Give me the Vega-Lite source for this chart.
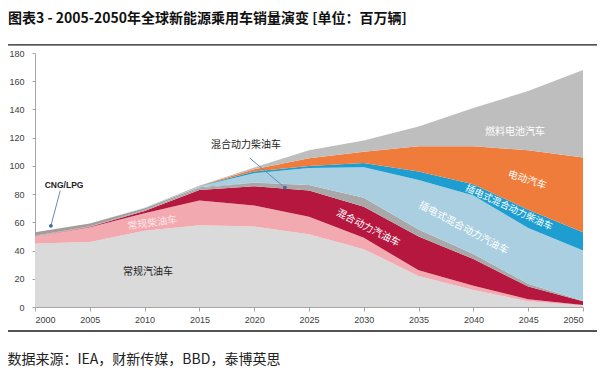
{
  "$schema": "https://vega.github.io/schema/vega-lite/v6.json",
  "autosize": "none",
  "width": 548,
  "height": 254,
  "padding": {"left": 35, "top": 53, "right": 24, "bottom": 73},
  "background": "#ffffff",
  "config": {
    "font": "Noto Sans CJK SC",
    "view": {"stroke": null},
    "axis": {"labelOverlap": false}
  },
  "title": {
    "text": "图表3 - 2005-2050年全球新能源乘用车销量演变 [单位：百万辆]",
    "anchor": "start",
    "frame": "group",
    "dx": -27,
    "offset": 16,
    "fontSize": 14,
    "fontWeight": "bold",
    "font": "Noto Sans CJK SC",
    "color": "#111111"
  },
  "resolve": {"axis": {"x": "independent", "y": "independent"}},
  "datasets": {
    "sales": [
      {"year": 2000, "常规汽油车": 45, "常规柴油车": 5, "混合动力汽油车": 0, "混合动力柴油车": 0.5, "CNG/LPG": 2.5, "插电式混合动力汽油车": 0, "插电式混合动力柴油车": 0, "电动汽车": 0, "燃料电池汽车": 0},
      {"year": 2005, "常规汽油车": 46, "常规柴油车": 10.5, "混合动力汽油车": 0.3, "混合动力柴油车": 0.5, "CNG/LPG": 1.8, "插电式混合动力汽油车": 0, "插电式混合动力柴油车": 0, "电动汽车": 0, "燃料电池汽车": 0},
      {"year": 2010, "常规汽油车": 54, "常规柴油车": 12.5, "混合动力汽油车": 1.5, "混合动力柴油车": 0.7, "CNG/LPG": 1.3, "插电式混合动力汽油车": 0.3, "插电式混合动力柴油车": 0, "电动汽车": 0, "燃料电池汽车": 0},
      {"year": 2015, "常规汽油车": 58, "常规柴油车": 17.5, "混合动力汽油车": 7.5, "混合动力柴油车": 1.2, "CNG/LPG": 0.6, "插电式混合动力汽油车": 0.7, "插电式混合动力柴油车": 0.3, "电动汽车": 0.2, "燃料电池汽车": 0},
      {"year": 2020, "常规汽油车": 57, "常规柴油车": 15, "混合动力汽油车": 13.5, "混合动力柴油车": 2.5, "CNG/LPG": 0.2, "插电式混合动力汽油车": 6.6, "插电式混合动力柴油车": 1.2, "电动汽车": 1.6, "燃料电池汽车": 1.2},
      {"year": 2025, "常规汽油车": 51.5, "常规柴油车": 12.5, "混合动力汽油车": 18.5, "混合动力柴油车": 4, "CNG/LPG": 0, "插电式混合动力汽油车": 12, "插电式混合动力柴油车": 1.5, "电动汽车": 5.5, "燃料电池汽车": 5.5},
      {"year": 2030, "常规汽油车": 41, "常规柴油车": 8, "混合动力汽油车": 22, "混合动力柴油车": 6.5, "CNG/LPG": 0, "插电式混合动力汽油车": 21.5, "插电式混合动力柴油车": 3, "电动汽车": 8, "燃料电池汽车": 8},
      {"year": 2035, "常规汽油车": 22, "常规柴油车": 4, "混合动力汽油车": 24, "混合动力柴油车": 5, "CNG/LPG": 0, "插电式混合动力汽油车": 35, "插电式混合动力柴油车": 6, "电动汽车": 18, "燃料电池汽车": 14},
      {"year": 2040, "常规汽油车": 12, "常规柴油车": 3, "混合动力汽油车": 19, "混合动力柴油车": 3.5, "CNG/LPG": 0, "插电式混合动力汽油车": 41.5, "插电式混合动力柴油车": 8, "电动汽车": 27, "燃料电池汽车": 27},
      {"year": 2045, "常规汽油车": 4, "常规柴油车": 1.5, "混合动力汽油车": 9, "混合动力柴油车": 2, "CNG/LPG": 0, "插电式混合动力汽油车": 39.5, "插电式混合动力柴油车": 13, "电动汽车": 42, "燃料电池汽车": 42},
      {"year": 2050, "常规汽油车": 1, "常规柴油车": 0.5, "混合动力汽油车": 2.5, "混合动力柴油车": 0.5, "CNG/LPG": 0, "插电式混合动力汽油车": 35.5, "插电式混合动力柴油车": 13, "电动汽车": 53, "燃料电池汽车": 62}
    ],
    "cats": [
      {"type": "常规汽油车", "k": 1},
      {"type": "常规柴油车", "k": 2},
      {"type": "混合动力汽油车", "k": 3},
      {"type": "混合动力柴油车", "k": 4},
      {"type": "CNG/LPG", "k": 5},
      {"type": "插电式混合动力汽油车", "k": 6},
      {"type": "插电式混合动力柴油车", "k": 7},
      {"type": "电动汽车", "k": 8},
      {"type": "燃料电池汽车", "k": 9}
    ],
    "labels": [
      {"name": "常规汽油车", "year": 2010.3, "value": 24.5},
      {"name": "混合动力柴油车", "year": 2019.25, "value": 114.5},
      {"name": "CNG/LPG", "year": 2002.65, "value": 86.5},
      {"name": "常规柴油车", "year": 2010.7, "value": 59.5},
      {"name": "混合动力汽油车", "year": 2030.4, "value": 56},
      {"name": "插电式混合动力汽油车", "year": 2039.1, "value": 56},
      {"name": "插电式混合动力柴油车", "year": 2043.25, "value": 70.5},
      {"name": "电动汽车", "year": 2044.9, "value": 90},
      {"name": "燃料电池汽车", "year": 2043.8, "value": 124}
    ],
    "arrows": [
      {"year": 2002.3, "value": 82.5, "year2": 2001.45, "value2": 57.5},
      {"year": 2019.6, "value": 105.5, "year2": 2022.8, "value2": 84.6}
    ],
    "borders": [
      {"xv": 1997.54, "yv": 185.7, "line": "top"},
      {"xv": 2051.28, "yv": 185.7, "line": "top"},
      {"xv": 1997.54, "yv": -17.0, "line": "bottom"},
      {"xv": 2051.28, "yv": -17.0, "line": "bottom"}
    ]
  },
  "layer": [
    {
      "data": {"name": "sales"},
      "transform": [
        {"fold": ["常规汽油车", "常规柴油车", "混合动力汽油车", "混合动力柴油车", "CNG/LPG", "插电式混合动力汽油车", "插电式混合动力柴油车", "电动汽车", "燃料电池汽车"], "as": ["type", "value"]},
        {"lookup": "type", "from": {"data": {"name": "cats"}, "key": "type", "fields": ["k"]}}
      ],
      "mark": {"type": "area", "interpolate": "linear"},
      "encoding": {
        "x": {
          "field": "year", "type": "quantitative",
          "scale": {"domain": [2000, 2050], "nice": false},
          "axis": {
            "values": [2000, 2005, 2010, 2015, 2020, 2025, 2030, 2035, 2040, 2045, 2050],
            "format": "d",
            "labelFontSize": 9,
            "labelColor": "#404040",
            "labelFont": "Liberation Sans",
            "labelOverlap": false,
            "domainColor": "#a6a6a6",
            "tickColor": "#a6a6a6",
            "tickSize": 4,
            "labelPadding": 4,
            "grid": false,
            "title": "数据来源：IEA，财新传媒，BBD，泰博英思",
            "titleX": -28,
            "titleY": 52,
            "titleAlign": "left",
            "titleAnchor": "start",
            "titleBaseline": "middle",
            "titleFontSize": 14,
            "titleFontWeight": "normal",
            "titleColor": "#222222",
            "titleFont": "Noto Sans CJK SC"
          }
        },
        "y": {
          "field": "value", "type": "quantitative", "stack": "zero",
          "scale": {"domain": [0, 180], "nice": false},
          "axis": {
            "values": [0, 20, 40, 60, 80, 100, 120, 140, 160, 180],
            "labelFontSize": 9,
            "labelColor": "#404040",
            "labelFont": "Liberation Sans",
            "labelOverlap": false,
            "domainColor": "#a6a6a6",
            "tickColor": "#a6a6a6",
            "tickSize": 3,
            "labelPadding": 8,
            "grid": false,
            "title": null
          }
        },
        "color": {
          "field": "type", "type": "nominal", "legend": null,
          "scale": {
            "domain": ["常规汽油车", "常规柴油车", "混合动力汽油车", "混合动力柴油车", "CNG/LPG", "插电式混合动力汽油车", "插电式混合动力柴油车", "电动汽车", "燃料电池汽车"],
            "range": ["#dadada", "#f3a9b0", "#b5173f", "#a8a8a8", "#a59b99", "#aacfe1", "#1e9ed0", "#f07c3c", "#bebebe"]
          }
        },
        "order": {"field": "k", "type": "quantitative", "sort": "ascending"}
      }
    },
    {
      "data": {"name": "borders"},
      "mark": {"type": "line", "strokeWidth": 1.3, "clip": false, "color": "#1a1a1a"},
      "encoding": {
        "x": {"field": "xv", "type": "quantitative", "axis": null},
        "y": {"field": "yv", "type": "quantitative", "axis": null},
        "detail": {"field": "line", "type": "nominal"}
      }
    },
    {
      "data": {"name": "arrows"},
      "mark": {"type": "rule", "color": "#6b8db0", "strokeWidth": 1},
      "encoding": {
        "x": {"field": "year", "type": "quantitative", "axis": null},
        "y": {"field": "value", "type": "quantitative", "axis": null},
        "x2": {"field": "year2"},
        "y2": {"field": "value2"}
      }
    },
    {
      "data": {"name": "arrows"},
      "mark": {"type": "point", "filled": true, "color": "#3d6a9c", "size": 14, "opacity": 1},
      "encoding": {
        "x": {"field": "year2", "type": "quantitative", "axis": null},
        "y": {"field": "value2", "type": "quantitative", "axis": null}
      }
    },
    {
      "data": {"name": "labels"},
      "transform": [{"filter": "datum.name === '常规汽油车' || datum.name === '混合动力柴油车'"}],
      "mark": {"type": "text", "fontSize": 10, "color": "#222222", "font": "Noto Sans CJK SC"},
      "encoding": {
        "x": {"field": "year", "type": "quantitative", "axis": null},
        "y": {"field": "value", "type": "quantitative", "axis": null},
        "text": {"field": "name"}
      }
    },
    {
      "data": {"name": "labels"},
      "transform": [{"filter": "datum.name === 'CNG/LPG'"}],
      "mark": {"type": "text", "fontSize": 8.5, "fontWeight": "bold", "color": "#222222", "font": "Liberation Sans"},
      "encoding": {
        "x": {"field": "year", "type": "quantitative", "axis": null},
        "y": {"field": "value", "type": "quantitative", "axis": null},
        "text": {"field": "name"}
      }
    },
    {
      "data": {"name": "labels"},
      "transform": [{"filter": "datum.name === '常规柴油车'"}],
      "mark": {"type": "text", "fontSize": 10, "color": "#fbe6e8", "angle": -8, "font": "Noto Sans CJK SC"},
      "encoding": {
        "x": {"field": "year", "type": "quantitative", "axis": null},
        "y": {"field": "value", "type": "quantitative", "axis": null},
        "text": {"field": "name"}
      }
    },
    {
      "data": {"name": "labels"},
      "transform": [{"filter": "datum.name === '混合动力汽油车'"}],
      "mark": {"type": "text", "fontSize": 10, "color": "#ffffff", "angle": 27, "font": "Noto Sans CJK SC"},
      "encoding": {
        "x": {"field": "year", "type": "quantitative", "axis": null},
        "y": {"field": "value", "type": "quantitative", "axis": null},
        "text": {"field": "name"}
      }
    },
    {
      "data": {"name": "labels"},
      "transform": [{"filter": "datum.name === '插电式混合动力汽油车'"}],
      "mark": {"type": "text", "fontSize": 10, "color": "#ffffff", "angle": 28, "font": "Noto Sans CJK SC"},
      "encoding": {
        "x": {"field": "year", "type": "quantitative", "axis": null},
        "y": {"field": "value", "type": "quantitative", "axis": null},
        "text": {"field": "name"}
      }
    },
    {
      "data": {"name": "labels"},
      "transform": [{"filter": "datum.name === '插电式混合动力柴油车'"}],
      "mark": {"type": "text", "fontSize": 9.5, "color": "#ffffff", "angle": 25, "font": "Noto Sans CJK SC"},
      "encoding": {
        "x": {"field": "year", "type": "quantitative", "axis": null},
        "y": {"field": "value", "type": "quantitative", "axis": null},
        "text": {"field": "name"}
      }
    },
    {
      "data": {"name": "labels"},
      "transform": [{"filter": "datum.name === '电动汽车'"}],
      "mark": {"type": "text", "fontSize": 10, "color": "#ffffff", "angle": 18, "font": "Noto Sans CJK SC"},
      "encoding": {
        "x": {"field": "year", "type": "quantitative", "axis": null},
        "y": {"field": "value", "type": "quantitative", "axis": null},
        "text": {"field": "name"}
      }
    },
    {
      "data": {"name": "labels"},
      "transform": [{"filter": "datum.name === '燃料电池汽车'"}],
      "mark": {"type": "text", "fontSize": 10, "color": "#ffffff", "font": "Noto Sans CJK SC"},
      "encoding": {
        "x": {"field": "year", "type": "quantitative", "axis": null},
        "y": {"field": "value", "type": "quantitative", "axis": null},
        "text": {"field": "name"}
      }
    }
  ]
}
